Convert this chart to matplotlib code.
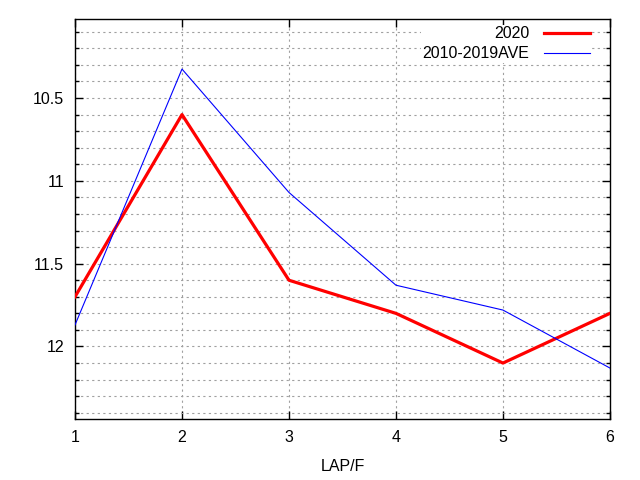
import numpy as np
import matplotlib
matplotlib.use("Agg")
import matplotlib.pyplot as plt
from matplotlib.ticker import MultipleLocator

plt.rcParams['font.family'] = ['Liberation Sans', 'DejaVu Sans']

laps = [1, 2, 3, 4, 5, 6]
y2020 = [11.70, 10.60, 11.60, 11.80, 12.10, 11.80]
yave = [11.87, 10.325, 11.07, 11.63, 11.78, 12.13]

fig = plt.figure(figsize=(6.4, 4.8), dpi=100)
ax = fig.add_axes([0.1172, 0.127, 0.8358, 0.833])

ax.plot(laps, y2020, color="#ff0000", lw=2.3, label="2020", zorder=3)
ax.plot(laps, yave, color="#0000ff", lw=0.8, label="2010-2019AVE", zorder=3)

ax.set_xlim(1, 6)
ax.set_ylim(12.438, 10.024)
ax.xaxis.set_major_locator(MultipleLocator(1))
ax.yaxis.set_minor_locator(MultipleLocator(0.1))
ticks = [10.5, 11, 11.5, 12]
ax.set_yticks(ticks)
ax.set_yticklabels(["10.5", "11", "11.5", "12"])

ax.grid(True, which="major", axis="x", color="#a0a0a0", ls=(0, (2, 3)), lw=0.8)
ax.grid(True, which="both", axis="y", color="#a0a0a0", ls=(0, (2, 3)), lw=0.8)

ax.tick_params(which="both", direction="in", top=True, right=True,
               labelsize=11.5, colors="black", pad=8)
ax.tick_params(which="major", length=6, width=1)
ax.tick_params(which="minor", length=3, width=1)
for s in ax.spines.values():
    s.set_linewidth(1)

ax.set_xlabel("LAP/F", fontsize=11.5, labelpad=10)

leg = ax.legend(loc="upper right", bbox_to_anchor=(0.9925, 1.022),
                frameon=True, fancybox=False,
                edgecolor="none", facecolor="white", framealpha=1,
                markerfirst=False, fontsize=11.5, handlelength=2.9,
                handletextpad=0.9, borderpad=0.1, labelspacing=0.3,
                borderaxespad=0.9)
for t in leg.get_texts():
    t.set_ha("right")
leg._legend_box.align = "right"
leg.set_zorder(5)

fig.savefig("out.png", dpi=100)
